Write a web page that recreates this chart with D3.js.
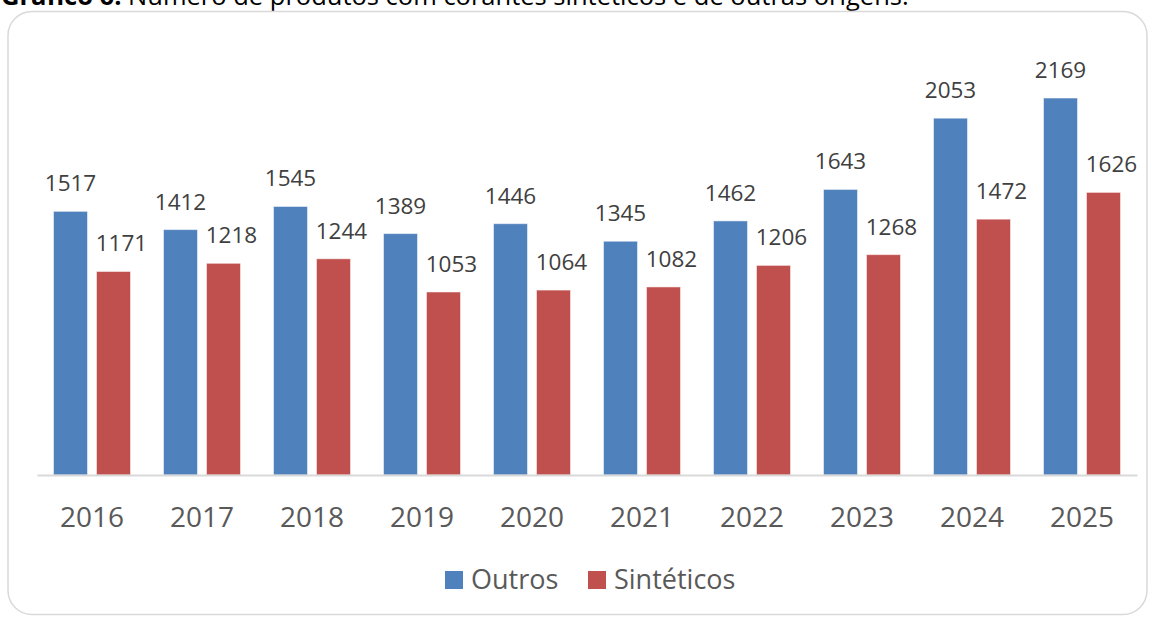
<!DOCTYPE html>
<html>
<head>
<meta charset="utf-8">
<script src="https://cdn.jsdelivr.net/npm/d3@7"></script>
<style>
  html, body { margin: 0; padding: 0; background: #fff; }
  svg { display: block; }
</style>
</head>
<body>
<svg id="chart" width="1150" height="617"></svg>
<script>
const years = ["2016","2017","2018","2019","2020","2021","2022","2023","2024","2025"];
const seriesNames = ["Outros", "Sintéticos"];
const outros = [1517, 1412, 1545, 1389, 1446, 1345, 1462, 1643, 2053, 2169];
const sinteticos = [1171, 1218, 1244, 1053, 1064, 1082, 1206, 1268, 1472, 1626];
const colors = ["#4F81BD", "#C0504D"];
const titleBold = "Gráfico 6.";
const titleRest = " Número de produtos com corantes sintéticos e de outras origens.";

const svg = d3.select("#chart");
const font = "'Open Sans', 'Liberation Sans', sans-serif";

// title (cut off at the top edge, as in the reference)
const title = svg.append("text").attr("x", 1).attr("y", 5)
  .attr("font-family", font).attr("font-size", 25.5).attr("fill", "#000");
title.append("tspan").attr("font-weight", "bold").text(titleBold);
title.append("tspan").text(titleRest);

// frame
svg.append("rect").attr("x", 8).attr("y", 11.5).attr("width", 1139).attr("height", 603)
  .attr("rx", 24).attr("ry", 24).attr("fill", "#fff")
  .attr("stroke", "#d9d9d9").attr("stroke-width", 1.5);

const x0 = d3.scaleBand().domain(years).range([37, 1137]).paddingInner(0).paddingOuter(0);
const x1 = d3.scaleBand().domain(seriesNames).range([0, x0.bandwidth()])
  .paddingInner(0.209).paddingOuter(0.384);
const y = d3.scaleLinear().domain([0, 2500]).range([475, 40.5]);

const data = years.map((yr, i) => ({ year: yr, values: [
  { key: seriesNames[0], value: outros[i], c: colors[0], dx: 0 },
  { key: seriesNames[1], value: sinteticos[i], c: colors[1], dx: 8 }
]}));

const g = svg.append("g");
const groups = g.selectAll("g.cat").data(data).join("g")
  .attr("class", "cat")
  .attr("transform", d => `translate(${x0(d.year)},0)`);

groups.selectAll("rect").data(d => d.values).join("rect")
  .attr("x", d => x1(d.key))
  .attr("y", d => y(d.value))
  .attr("width", x1.bandwidth())
  .attr("height", d => y(0) - y(d.value))
  .attr("fill", d => d.c)
  .attr("stroke", "#ffffff").attr("stroke-opacity", 0.5).attr("stroke-width", 1);

groups.selectAll("text.lbl").data(d => d.values).join("text")
  .attr("class", "lbl")
  .attr("x", d => x1(d.key) + x1.bandwidth() / 2 + d.dx)
  .attr("y", d => y(d.value) - 20)
  .attr("text-anchor", "middle")
  .attr("font-family", font).attr("font-size", 22.5).attr("fill", "#404040")
  .text(d => d.value);

// axis
const axis = svg.append("g").attr("transform", `translate(0,${y(0)})`)
  .call(d3.axisBottom(x0).tickSize(0).tickPadding(0));
axis.select(".domain").attr("stroke", "#d9d9d9").attr("stroke-width", 2);
axis.selectAll(".tick text")
  .attr("dy", null).attr("y", 52)
  .attr("font-family", font).attr("font-size", 28).attr("fill", "#595959");

// legend
const legend = svg.append("g");
const legendItems = [
  { name: seriesNames[0], c: colors[0], x: 445 },
  { name: seriesNames[1], c: colors[1], x: 588 }
];
legendItems.forEach(it => {
  legend.append("rect").attr("x", it.x).attr("y", 571).attr("width", 18).attr("height", 18).attr("fill", it.c);
  legend.append("text").attr("x", it.x + 26).attr("y", 589)
    .attr("font-family", font).attr("font-size", 27).attr("fill", "#595959").text(it.name);
});
</script>
</body>
</html>
